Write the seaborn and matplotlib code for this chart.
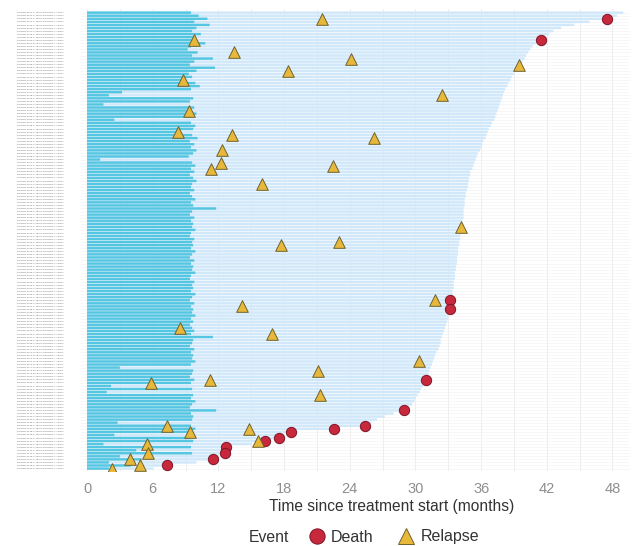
import numpy as np
import pandas as pd
import matplotlib
matplotlib.use("Agg")
import matplotlib.pyplot as plt
import seaborn as sns
from matplotlib.lines import Line2D
from matplotlib.ticker import MultipleLocator

sns.set_theme(style="white")
plt.rcParams["font.family"] = ["Liberation Sans", "DejaVu Sans"]

# ---------------- data ----------------
followup = [
    49.0, 48.4, 47.5, 45.9, 44.5, 43.3, 42.6, 42.2, 41.8, 41.5,
    41.0, 40.7, 40.5, 40.3, 40.1, 40.0, 39.8, 39.6, 39.4, 39.2,
    39.0, 38.8, 38.7, 38.5, 38.4, 38.2, 38.1, 38.0, 37.9, 37.8,
    37.7, 37.6, 37.5, 37.4, 37.3, 37.2, 37.0, 36.9, 36.7, 36.6,
    36.5, 36.4, 36.2, 36.1, 36.0, 35.9, 35.7, 35.6, 35.5, 35.4,
    35.3, 35.2, 35.0, 35.0, 34.9, 34.9, 34.8, 34.8, 34.7, 34.6,
    34.6, 34.5, 34.5, 34.5, 34.4, 34.4, 34.4, 34.4, 34.3, 34.3,
    34.3, 34.2, 34.2, 34.1, 34.1, 34.0, 34.0, 33.9, 33.9, 33.9,
    33.8, 33.8, 33.8, 33.7, 33.7, 33.6, 33.6, 33.6, 33.5, 33.5,
    33.5, 33.4, 33.4, 33.3, 33.2, 33.2, 33.2, 33.2, 33.1, 33.0,
    33.0, 32.9, 32.8, 32.7, 32.6, 32.5, 32.4, 32.3, 32.3, 32.2,
    32.1, 31.9, 31.8, 31.7, 31.6, 31.5, 31.4, 31.3, 31.2, 31.1,
    31.0, 30.8, 30.7, 30.5, 30.4, 30.2, 30.0, 29.9, 29.7, 29.4,
    29.0, 28.0, 27.2, 26.5, 26.0, 25.4, 22.6, 18.6, 18.0, 17.5,
    16.3, 15.0, 12.7, 12.7, 12.6, 12.0, 11.5, 10.0, 7.3, 6.0,
]

treatment = [
    9.5, 10.2, 11.0, 9.8, 11.2, 10.0, 9.6, 10.4, 9.7, 9.9,
    10.8, 9.5, 9.2, 10.1, 9.6, 11.5, 9.8, 9.4, 11.7, 10.0,
    9.3, 9.6, 8.6, 9.9, 10.3, 9.5, 3.2, 2.0, 9.7, 9.4,
    1.5, 9.8, 9.1, 10.0, 9.6, 2.5, 9.5, 9.9, 9.7, 8.2,
    9.6, 10.1, 9.4, 9.8, 9.5, 10.0, 9.7, 9.3, 1.2, 9.6,
    9.9, 9.5, 9.8, 9.4, 9.7, 10.0, 9.6, 9.5, 9.8, 9.4,
    9.6, 9.9, 9.5, 9.7, 11.8, 9.6, 9.4, 9.8, 9.5, 9.7,
    9.6, 9.9, 9.5, 9.4, 9.8, 9.6, 9.7, 9.5, 9.9, 9.6,
    9.4, 9.8, 9.5, 9.7, 9.6, 9.9, 9.5, 9.4, 9.8, 9.6,
    9.7, 9.5, 9.9, 9.6, 9.4, 9.8, 9.5, 9.7, 9.6, 9.9,
    9.5, 9.7, 9.4, 9.6, 9.8, 9.5, 11.5, 9.7, 9.6, 9.4,
    9.8, 9.5, 9.7, 9.6, 9.9, 9.5, 3.0, 9.7, 9.6, 9.4,
    9.8, 9.5, 2.2, 9.6, 1.8, 9.7, 9.5, 9.9, 9.6, 9.4,
    11.8, 9.5, 9.7, 9.6, 2.8, 9.5, 9.9, 9.6, 2.5, 9.4,
    9.7, 1.5, 9.5, 4.5, 9.6, 3.0, 5.0, 2.0, 4.0, 2.0,
]

patients = [f"PATIENT-{i + 1:04d}-SITE-0{(i * 7) % 10}-COHORT-A-ARM-1"
            for i in range(len(followup))]

death_row = [2, 9, 94, 97, 120, 130, 135, 136, 137, 139, 140, 142, 144, 146, 148]
death_time = [47.5, 41.5, 33.2, 33.2, 31.0, 29.0, 25.4, 22.6, 18.6, 17.5,
              16.3, 12.7, 12.6, 11.5, 7.3]

relapse_row = [2, 9, 13, 15, 17, 19, 22, 27, 32, 39, 40, 41, 45, 49, 50, 51,
               56, 70, 75, 76, 94, 96, 103, 105, 114, 117, 120, 121, 125,
               135, 136, 137, 140, 141, 144, 146, 148, 149]
relapse_time = [21.5, 9.8, 13.4, 24.1, 39.5, 18.4, 8.8, 32.4, 9.3, 8.3, 13.2,
                26.2, 12.3, 12.2, 22.5, 11.3, 16.0, 34.2, 23.0, 17.7, 31.8,
                14.2, 8.5, 16.9, 30.3, 21.1, 11.2, 5.8, 21.3, 7.3, 14.8, 9.4,
                15.6, 5.5, 5.6, 3.9, 4.8, 2.3]

x_ticks = [0, 6, 12, 18, 24, 30, 36, 42, 48]

# ---------------- styling ----------------
c_follow = "#D0E8FA"
c_treat = "#55C6E2"
c_death = "#C8283C"
c_death_edge = "#7E1526"
c_relapse = "#E8B83A"
c_relapse_edge = "#6E6230"

W, H = 641, 546
fig = plt.figure(figsize=(W / 100, H / 100), dpi=100)
ax = fig.add_axes([80 / W, 1 - 471 / H, 550 / W, 462 / H])

bars = pd.DataFrame({"patient": patients, "followup": followup, "treatment": treatment})

sns.barplot(data=bars, x="followup", y="patient", orient="h", color=c_follow,
            saturation=1, width=0.8, errorbar=None, ax=ax, zorder=2,
            linewidth=0, snap=False)
sns.barplot(data=bars, x="treatment", y="patient", orient="h", color=c_treat,
            saturation=1, width=0.8, errorbar=None, ax=ax, zorder=3,
            linewidth=0, snap=False)

deaths = pd.DataFrame({"time": death_time, "row": death_row})
relapses = pd.DataFrame({"time": relapse_time, "row": relapse_row})

sns.scatterplot(data=deaths, x="time", y="row", marker="o", s=55, color=c_death,
                edgecolor=c_death_edge, linewidth=0.7, ax=ax, zorder=5, legend=False)
sns.scatterplot(data=relapses, x="time", y="row", marker="^", s=70, color=c_relapse,
                edgecolor=c_relapse_edge, linewidth=0.7, ax=ax, zorder=6, legend=False)

ax.set_xlim(-0.64, 49.6)
ax.set_ylim(len(patients) - 0.2, -1.2)
ax.set_xticks(x_ticks)
ax.xaxis.set_minor_locator(MultipleLocator(3))
ax.grid(axis="x", which="both", color="#EAEAEA", linewidth=0.6, zorder=0)
ax.grid(axis="y", which="major", color="#F2F2F2", linewidth=0.4, zorder=0)
ax.set_axisbelow(True)
for s in ax.spines.values():
    s.set_visible(False)

ax.tick_params(axis="x", length=0, pad=8, labelsize=10.5, labelcolor="#8F8F8F")
ax.tick_params(axis="y", length=0, pad=11, labelsize=1.75, labelcolor="#666666")
ax.set_xlabel("Time since treatment start (months)", fontsize=11.2, color="#333333")
ax.xaxis.set_label_coords((392 - 80) / 550, -(506 - 471) / 462)
ax.xaxis.label.set_va("center")
ax.set_ylabel("")

fig.text(249 / W, 1 - 537 / H, "Event", fontsize=11.3, color="#333333", va="center", ha="left")
handles = [
    Line2D([], [], linestyle="none", marker="o", markersize=11, markerfacecolor=c_death,
           markeredgecolor=c_death_edge, markeredgewidth=0.7, label="Death"),
    Line2D([], [], linestyle="none", marker="^", markersize=12, markerfacecolor=c_relapse,
           markeredgecolor=c_relapse_edge, markeredgewidth=0.7, label="Relapse"),
]
fig.legend(handles=handles, loc="center left", bbox_to_anchor=(307 / W, 1 - 537 / H),
           ncol=2, frameon=False, fontsize=11.5, handletextpad=0.3, columnspacing=1.45,
           handlelength=1.2, labelcolor="#333333", borderpad=0.0, borderaxespad=0.0)

fig.savefig("out.png", dpi=100, facecolor="white")
